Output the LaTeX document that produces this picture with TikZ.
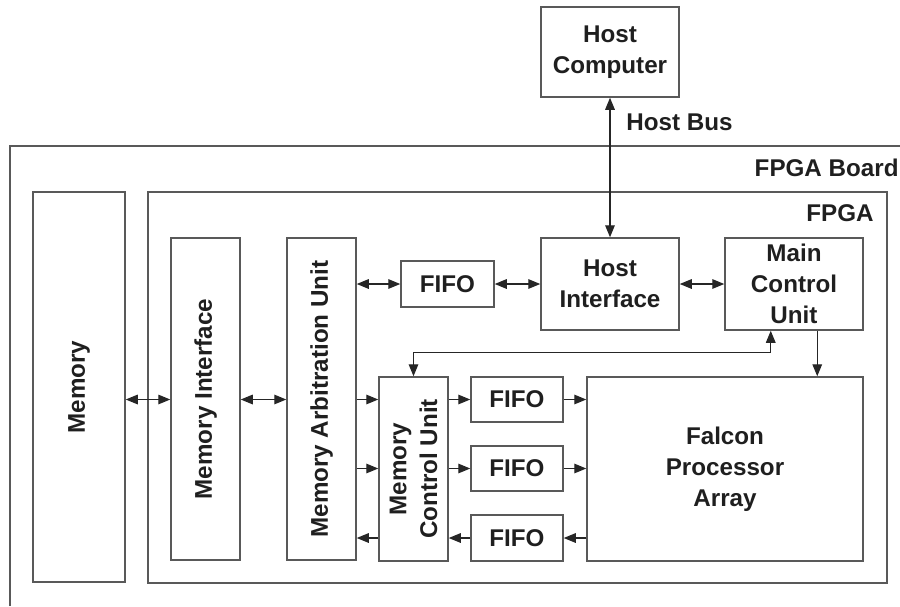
\documentclass[tikz,border=0pt]{standalone}
\usepackage{fontspec}
\setmainfont{Liberation Sans}
\usetikzlibrary{arrows.meta,fit,calc}

\begin{document}
\begin{tikzpicture}[x=0.5pt,y=-0.5pt,
  box/.style={draw=black!65, line width=0.75pt, inner sep=0pt},
  lbl/.style={font=\fontsize{12.1}{15.4}\selectfont\bfseries, text=black!88, align=center},
  tip/.tip={Triangle[length=6pt,width=4.8pt]},
  con/.style={draw=black!85, line width=0.6pt, -tip},
  dbl/.style={draw=black!85, line width=0.6pt, tip-tip},
]
\useasboundingbox (0,0) rectangle (900,606);

% board outline (runs off the page on the right and bottom)
\draw[draw=black!65, line width=0.9pt] (10,606) -- (10,146) -- (900,146);
\node[lbl, anchor=east, inner sep=0pt] (boardlbl) at (899,168) {FPGA Board};

% blocks
\node[box, fit={(541,7) (679,97)}] (host) {};
\node[box, fit={(33,192) (125,582)}] (mem) {};
\node[box, fit={(148,192) (887,583)}] (fpga) {};
\node[box, fit={(171,238) (240,560)}] (mif) {};
\node[box, fit={(287,238) (356,560)}] (arb) {};
\node[box, fit={(401,261) (494,307)}] (fifoT) {};
\node[box, fit={(541,238) (679,330)}] (hif) {};
\node[box, fit={(725,238) (863,330)}] (main) {};
\node[box, fit={(379,377) (448,561)}] (mcu) {};
\node[box, fit={(471,377) (563,422)}] (fifoA) {};
\node[box, fit={(471,446) (563,491)}] (fifoB) {};
\node[box, fit={(471,515) (563,561)}] (fifoC) {};
\node[box, fit={(587,377) (863,561)}] (fpa) {};

% block texts
\node[lbl] at (host) {Host\\Computer};
\node[lbl, anchor=east, inner sep=0pt] (fpgalbl) at (874,213) {FPGA};
\node[lbl, rotate=90] at (mem) {Memory};
\node[lbl, rotate=90] at (mif) {Memory Interface};
\node[lbl, rotate=90] at (arb) {Memory Arbitration Unit};
\node[lbl, rotate=90] at (mcu) {Memory\\Control Unit};
\node[lbl] at (fifoT) {FIFO};
\node[lbl] at (fifoA) {FIFO};
\node[lbl] at (fifoB) {FIFO};
\node[lbl] at (fifoC) {FIFO};
\node[lbl] at (hif) {Host\\Interface};
\node[lbl] at (main) {Main\\Control\\Unit};
\node[lbl] at (fpa) {Falcon\\Processor\\Array};

% host bus
\draw[dbl] (host.south) -- (hif.north);
\node[lbl, anchor=west, inner sep=0pt] (buslbl) at (626,122) {Host Bus};

% memory side
\draw[dbl] (mem.east |- fifoA) -- (mif.west |- fifoA);
\draw[dbl] (mif.east |- fifoA) -- (arb.west |- fifoA);

% top row
\draw[dbl] (arb.east |- fifoT) -- (fifoT.west);
\draw[dbl] (fifoT.east) -- (hif.west |- fifoT);
\draw[dbl] (hif.east |- fifoT) -- (main.west |- fifoT);

% main control unit links
\coordinate (m1) at ($(main.south west)!1/3!(main.south east)$);
\coordinate (m2) at ($(main.south west)!2/3!(main.south east)$);
\draw[con] (m2) -- (m2 |- fpa.north);
\draw[dbl] (mcu.north) -- ++(0,-24) -| (m1);

% arbitration to memory control unit
\draw[con] (arb.east |- fifoA) -- (mcu.west |- fifoA);
\draw[con] (arb.east |- fifoB) -- (mcu.west |- fifoB);
\draw[con] (mcu.west |- fifoC) -- (arb.east |- fifoC);

% fifo lanes
\draw[con] (mcu.east |- fifoA) -- (fifoA.west);
\draw[con] (fifoA.east) -- (fpa.west |- fifoA);
\draw[con] (mcu.east |- fifoB) -- (fifoB.west);
\draw[con] (fifoB.east) -- (fpa.west |- fifoB);
\draw[con] (fpa.west |- fifoC) -- (fifoC.east);
\draw[con] (fifoC.west) -- (mcu.east |- fifoC);
\end{tikzpicture}
\end{document}
